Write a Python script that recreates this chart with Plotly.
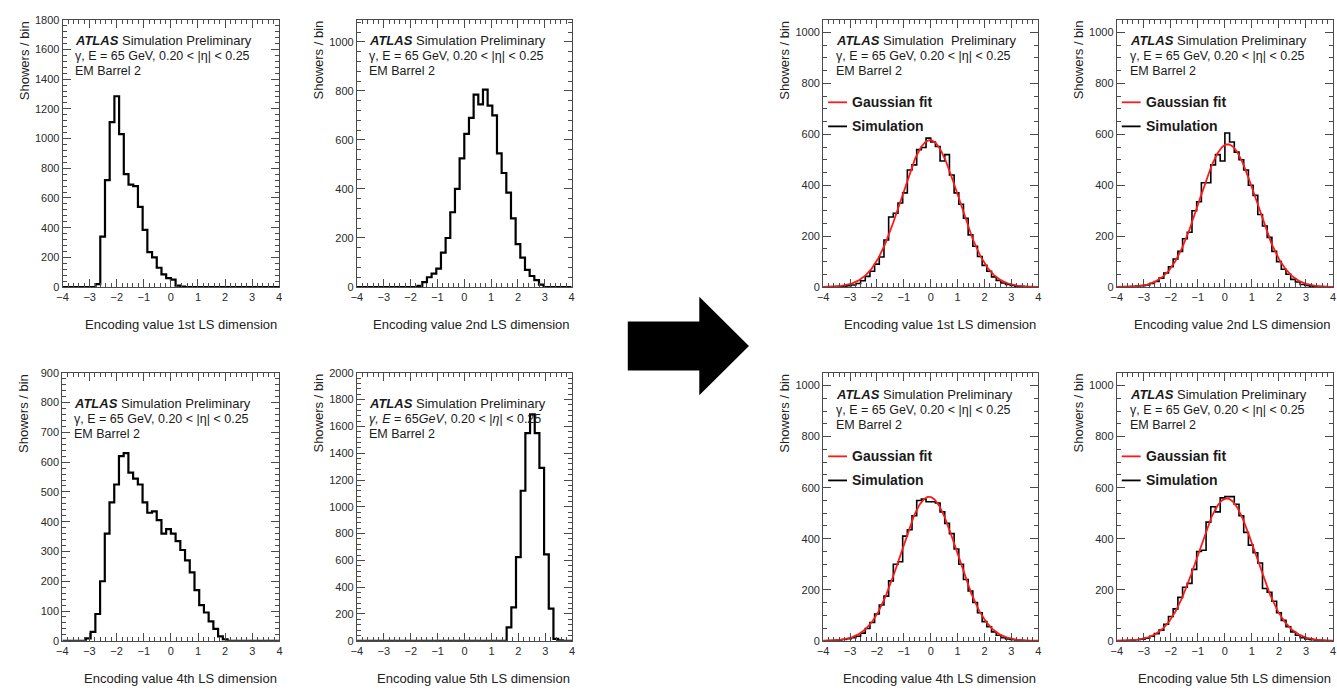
import numpy as np
import plotly.graph_objects as go

# ---------------------------------------------------------------------------
# Binning shared by every histogram: 46 equal bins on [-4, 4]
# ---------------------------------------------------------------------------
N_BINS = 46
X_MIN, X_MAX = -4.0, 4.0

DIMENSIONS = ["1st", "2nd", "4th", "5th"]

# Shower counts per bin of the latent-space encodings before the transformation
before_1st = [0, 0, 0, 0, 0, 0, 0, 20, 340, 720, 1110, 1285, 1030, 760, 690, 680,
              540, 385, 235, 200, 130, 85, 60, 50, 10, 3, 0, 0, 0, 0, 0, 0,
              0, 0, 0, 0, 0, 0, 0, 0, 0, 0, 0, 0, 0, 0]
before_2nd = [0, 0, 0, 0, 0, 0, 0, 0, 0, 0, 0, 0, 0, 5, 20, 40,
              55, 75, 140, 200, 305, 400, 525, 625, 690, 785, 745, 805, 740, 700, 545, 465,
              385, 280, 175, 120, 70, 45, 28, 10, 0, 0, 0, 0, 0, 0]
before_4th = [0, 0, 0, 0, 0, 8, 30, 90, 200, 360, 465, 525, 620, 630, 565, 545,
              525, 465, 430, 435, 405, 360, 375, 360, 335, 305, 270, 230, 170, 120, 95, 65,
              40, 15, 5, 0, 0, 0, 0, 0, 0, 0, 0, 0, 0, 0]
before_5th = [0, 0, 0, 0, 0, 0, 0, 0, 0, 0, 0, 0, 0, 0, 0, 0,
              0, 0, 0, 0, 0, 0, 0, 0, 0, 0, 0, 0, 0, 0, 0, 0,
              100, 250, 625, 1120, 1550, 1690, 1550, 1290, 645, 240, 15, 3, 0, 0]

# Shower counts per bin after the transformation (compared with a Gaussian fit)
after_1st = [0, 0, 0, 2, 3, 5, 8, 14, 25, 42, 62, 90, 118, 185, 275, 290,
             330, 370, 460, 480, 540, 548, 585, 570, 552, 495, 520, 440, 370, 325, 270, 205,
             160, 120, 85, 62, 40, 26, 16, 10, 6, 3, 2, 0, 0, 0]
after_2nd = [0, 0, 0, 2, 4, 5, 8, 14, 22, 35, 55, 80, 110, 140, 190, 215,
             300, 335, 410, 410, 480, 520, 495, 605, 570, 530, 500, 460, 400, 360, 285, 240,
             195, 140, 100, 70, 50, 30, 20, 10, 6, 3, 2, 0, 0, 0]
after_4th = [0, 0, 0, 2, 5, 8, 12, 18, 30, 48, 72, 105, 140, 175, 235, 300,
             310, 410, 435, 490, 550, 555, 545, 545, 540, 505, 460, 420, 360, 300, 240, 195,
             150, 110, 75, 55, 35, 22, 12, 7, 4, 2, 1, 0, 0, 0]
after_5th = [0, 0, 0, 2, 4, 6, 10, 18, 28, 42, 65, 95, 125, 170, 210, 225,
             280, 350, 355, 465, 525, 505, 560, 565, 565, 535, 490, 425, 375, 345, 305, 205,
             190, 155, 110, 80, 55, 35, 22, 12, 7, 4, 2, 0, 0, 0]

BEFORE = [before_1st, before_2nd, before_4th, before_5th]
AFTER = [after_1st, after_2nd, after_4th, after_5th]

# y-axis ranges and tick steps of each panel
BEFORE_YMAX = [1800, 1090, 900, 2000]
BEFORE_DTICK = [200, 200, 100, 200]
AFTER_YMAX = [1050, 1050, 1050, 1050]
AFTER_DTICK = [200, 200, 200, 200]

ATLAS_LINE = "<b><i>ATLAS</i></b> Simulation Preliminary"
ATLAS_LINE_WIDE = "<b><i>ATLAS</i></b> Simulation&nbsp; Preliminary"
KIN_LINE = "γ, E = 65 GeV, 0.20 &lt; |η| &lt; 0.25"
KIN_LINE_ITALIC = "<i>γ, E</i> = 65<i>GeV</i>, 0.20 &lt; |<i>η</i>| &lt; 0.25"
REGION_LINE = "EM Barrel 2"

# ---------------------------------------------------------------------------
# Page geometry (pixels)
# ---------------------------------------------------------------------------
W, H = 1337, 692
FONT = "Liberation Sans, Arial, Helvetica, sans-serif"

# plot-area boxes: (left, right, top, bottom)
BEFORE_BOX = [(57, 275, 14, 286), (353.3, 569.5, 14, 286),
              (56.7, 275.3, 373.3, 646), (353.3, 570, 373.3, 646)]
AFTER_BOX = [(822.7, 1039.3, 14, 286), (1118.3, 1336, 14, 286),
             (822.7, 1039.3, 373.3, 646), (1118.3, 1336, 373.3, 646)]


def px(x):
    return x / W


def py(y):
    return 1 - y / H


edges = np.linspace(X_MIN, X_MAX, N_BINS + 1)
centers = 0.5 * (edges[:-1] + edges[1:])


def gaussian_fit(counts):
    """Weighted log-parabola fit of a binned distribution (Caruana)."""
    c = np.asarray(counts, dtype=float)
    m = c > 0
    a2, a1, a0 = np.polyfit(centers[m], np.log(c[m]), 2, w=c[m])
    mu = -a1 / (2 * a2)
    sigma = np.sqrt(-1 / (2 * a2))
    amp = np.exp(a0 - a1 ** 2 / (4 * a2))
    return amp, mu, sigma


fig = go.Figure()
annotations = []
shapes = []

panels = []
for i in range(4):
    panels.append(dict(counts=BEFORE[i], box=BEFORE_BOX[i], ymax=BEFORE_YMAX[i],
                       dtick=BEFORE_DTICK[i], fit=False, dim=DIMENSIONS[i],
                       head=ATLAS_LINE,
                       kin=KIN_LINE_ITALIC if i == 3 else KIN_LINE, lw=2.2))
for i in range(4):
    panels.append(dict(counts=AFTER[i], box=AFTER_BOX[i], ymax=AFTER_YMAX[i],
                       dtick=AFTER_DTICK[i], fit=True, dim=DIMENSIONS[i],
                       head=ATLAS_LINE_WIDE if i == 0 else ATLAS_LINE,
                       kin=KIN_LINE, lw=1.6))

axis_color = "#4a4a4a"
tick_font = dict(family=FONT, size=11, color="#2a2a2a")

for n, p in enumerate(panels, start=1):
    xa = "x" if n == 1 else f"x{n}"
    ya = "y" if n == 1 else f"y{n}"
    left, right, top, bottom = p["box"]
    counts = list(p["counts"])

    # step outline of the histogram
    fig.add_trace(go.Scatter(
        x=edges, y=counts + [counts[-1]], mode="lines",
        line=dict(shape="hv", color="black", width=p["lw"]),
        xaxis=xa, yaxis=ya, showlegend=False, hoverinfo="skip"))

    if p["fit"]:
        amp, mu, sigma = gaussian_fit(counts)
        xs = np.linspace(X_MIN, X_MAX, 400)
        fig.add_trace(go.Scatter(
            x=xs, y=amp * np.exp(-0.5 * ((xs - mu) / sigma) ** 2), mode="lines",
            line=dict(color="#ff1a1a", width=1.8),
            xaxis=xa, yaxis=ya, showlegend=False, hoverinfo="skip"))

    ydt = p["dtick"]
    ysub = 4 if p["fit"] else 5
    fig.update_layout({
        ("xaxis" if n == 1 else f"xaxis{n}"): dict(
            domain=[px(left), px(right)], range=[X_MIN, X_MAX], anchor=ya,
            dtick=1, tick0=0, ticks="inside", ticklen=8, tickwidth=1,
            tickcolor=axis_color, showline=True, linecolor=axis_color, linewidth=1,
            mirror="ticks", showgrid=False, zeroline=False, tickfont=tick_font,
            minor=dict(ticks="inside", ticklen=4, dtick=0.2, tickcolor=axis_color,
                       showgrid=False),
            fixedrange=True),
        ("yaxis" if n == 1 else f"yaxis{n}"): dict(
            domain=[py(bottom), py(top)], range=[0, p["ymax"]], anchor=xa,
            dtick=ydt, tick0=0, ticks="inside", ticklen=8, tickwidth=1,
            tickcolor=axis_color, showline=True, linecolor=axis_color, linewidth=1,
            mirror="ticks", showgrid=False, zeroline=False, tickfont=tick_font,
            minor=dict(ticks="inside", ticklen=4, dtick=ydt / ysub, tickcolor=axis_color,
                       showgrid=False),
            fixedrange=True),
    })

    # axis titles, aligned to the far end of each axis
    annotations.append(dict(
        text=f"Encoding value {p['dim']} LS dimension", x=px(right),
        y=py(bottom + 38), xref="paper", yref="paper", xanchor="right",
        yanchor="middle", showarrow=False, font=dict(family=FONT, size=13, color="#222")))
    annotations.append(dict(
        text="Showers / bin", textangle=-90, x=px(left - 39), y=py(top - 1),
        xref="paper", yref="paper", xanchor="center", yanchor="top",
        showarrow=False, font=dict(family=FONT, size=13, color="#222")))

    # label block inside the frame
    tx = left + (10 if left < 100 or 300 < left < 400 else 11)
    ty0 = top + (21 if top < 100 else 31)
    if p["fit"] and top > 100:
        ty0 = top + 22
    for j, line in enumerate([p["head"], p["kin"], REGION_LINE]):
        annotations.append(dict(
            text=line, x=px(tx), y=py(ty0 + 15.5 * j), xref="paper", yref="paper",
            xanchor="left", yanchor="middle", showarrow=False,
            font=dict(family=FONT, size=13 if j == 0 else 12.5, color="#1a1a1a")))

    # legend block for the fitted panels
    if p["fit"]:
        ly0 = ty0 + 63
        for j, (label, col) in enumerate([("Gaussian fit", "#ff1a1a"), ("Simulation", "black")]):
            yy = ly0 + 24.5 * j
            shapes.append(dict(type="line", xref="paper", yref="paper",
                               x0=px(left + 5), x1=px(left + 24), y0=py(yy), y1=py(yy),
                               line=dict(color=col, width=1.8)))
            annotations.append(dict(
                text=f"<b>{label}</b>", x=px(left + 27), y=py(yy), xref="paper",
                yref="paper", xanchor="left", yanchor="middle", showarrow=False,
                font=dict(family=FONT, size=14, color="#1a1a1a")))

# block arrow between the two groups of panels
arrow = [(626, 321), (698, 321), (698, 296), (748, 346), (698, 396), (698, 371), (626, 371)]
path = "M " + " L ".join(f"{px(x):.5f},{py(y):.5f}" for x, y in arrow) + " Z"
shapes.append(dict(type="path", path=path, xref="paper", yref="paper",
                   fillcolor="black", line=dict(color="black", width=0)))

fig.update_layout(
    width=W, height=H, margin=dict(l=0, r=0, t=0, b=0),
    paper_bgcolor="white", plot_bgcolor="white",
    annotations=annotations, shapes=shapes, showlegend=False,
    font=dict(family=FONT),
)

fig.write_html("out.html", config={"displayModeBar": False})
